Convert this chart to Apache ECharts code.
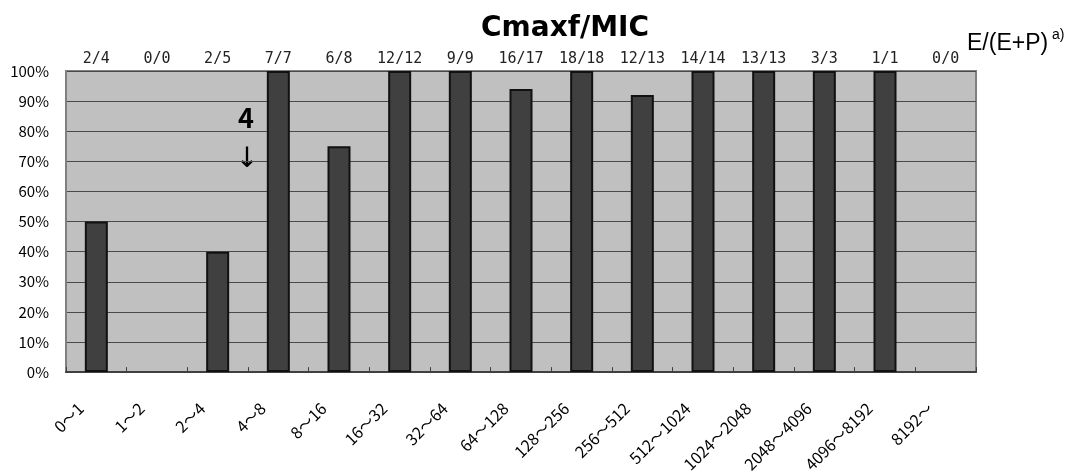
<!DOCTYPE html>
<html>
<head>
<meta charset="utf-8">
<script src="https://cdn.jsdelivr.net/npm/echarts@6/dist/echarts.min.js"></script>
<style>
html,body{margin:0;padding:0;background:#fff;}
#chart{width:1070px;height:475px;}
</style>
</head>
<body>
<div id="chart"></div>
<script>
// ---- data ----
const categories = ['0～1','1～2','2～4','4～8','8～16','16～32','32～64','64～128','128～256','256～512','512～1024','1024～2048','2048～4096','4096～8192','8192～'];
const ratioLabels = ['2/4','0/0','2/5','7/7','6/8','12/12','9/9','16/17','18/18','12/13','14/14','13/13','3/3','1/1','0/0'];
const percentValues = [50, null, 40, 100, 75, 100, 100, 94, 100, 92, 100, 100, 100, 100, null];
const titleText = 'Cmaxf/MIC';
const sideLabel = 'E/(E+P)';
const sideNote = 'a)';
const annotationNumber = '4';
const annotationArrow = '↓';

const chart = echarts.init(document.getElementById('chart'), null, {renderer: 'canvas'});

const option = {
  backgroundColor: '#ffffff',
  animation: false,
  grid: {
    left: 66, right: 94, top: 71, bottom: 102,
    show: true, backgroundColor: '#c0c0c0', borderColor: '#808080', borderWidth: 2
  },
  xAxis: [
    {
      type: 'category',
      data: categories,
      position: 'bottom',
      boundaryGap: true,
      axisLine: {show: true, lineStyle: {color: '#404040', width: 2}},
      axisTick: {show: true, inside: true, length: 5, interval: 0, lineStyle: {color: '#404040', width: 1}},
      axisLabel: {
        interval: 0, rotate: 45, margin: 18,
        fontFamily: 'Noto Sans CJK JP', fontSize: 16, color: '#000',
        padding: [0, 22, 0, 0]
      },
      splitLine: {show: false}
    },
    {
      type: 'category',
      data: ratioLabels,
      position: 'top',
      boundaryGap: true,
      axisLine: {show: false},
      axisTick: {show: false},
      axisLabel: {
        interval: 0, margin: 4,
        fontFamily: 'DejaVu Sans Mono', fontSize: 15, color: '#222'
      },
      splitLine: {show: false}
    }
  ],
  yAxis: {
    type: 'value',
    min: 0, max: 100, interval: 10,
    axisLine: {show: true, lineStyle: {color: '#808080', width: 2}},
    axisTick: {show: false},
    axisLabel: {
      formatter: '{value}%', margin: 17,
      fontFamily: 'Noto Sans CJK JP', fontSize: 15, color: '#000'
    },
    splitLine: {show: true, lineStyle: {color: '#4a4a4a', width: 1}}
  },
  series: [{
    type: 'bar',
    xAxisIndex: 0,
    data: percentValues,
    barWidth: 23,
    itemStyle: {color: '#404040', borderColor: '#111', borderWidth: 2}
  }],
  graphic: [
    {type: 'text', x: 565, y: 29, style: {text: titleText, fontFamily: 'DejaVu Sans', fontWeight: 'bold', fontSize: 28, fill: '#000', align: 'center', verticalAlign: 'middle'}},
    {type: 'text', x: 967, y: 44, style: {text: sideLabel, fontFamily: 'Liberation Sans', fontSize: 23, fill: '#000', align: 'left', verticalAlign: 'middle'}},
    {type: 'text', x: 1052, y: 35, style: {text: sideNote, fontFamily: 'Liberation Sans', fontSize: 14, fill: '#000', align: 'left', verticalAlign: 'middle'}},
    {type: 'text', x: 246, y: 118, style: {text: annotationNumber, fontFamily: 'Noto Sans CJK JP', fontWeight: 'bold', fontSize: 27, fill: '#000', align: 'center', verticalAlign: 'middle'}},
    {type: 'text', x: 247, y: 160, style: {text: annotationArrow, fontFamily: 'DejaVu Sans', fontSize: 28, fill: '#000', align: 'center', verticalAlign: 'middle'}}
  ]
};
chart.setOption(option);
</script>
</body>
</html>
